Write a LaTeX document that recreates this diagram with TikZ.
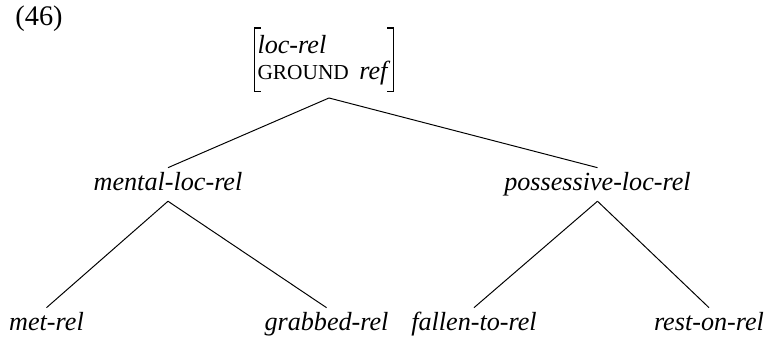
\documentclass[tikz,border=0pt]{standalone}
\usepackage{fontspec}
\setmainfont{Liberation Serif}

\tikzset{
  type/.style={font=\fontsize{12}{12}\selectfont\itshape, anchor=base,
    text height=8pt, text depth=2pt, inner xsep=0pt, inner ysep=2.5pt},
  branch/.style={line width=0.45pt},
  bracket/.style={line width=0.6pt}
}
\newcommand{\fakesc}[1]{{\fontsize{9.8}{9.8}\selectfont #1}}

\begin{document}
\begin{tikzpicture}[x=0.4587pt, y=0.4587pt]
\useasboundingbox (0,0) rectangle (766,340);

% Example number
\node[anchor=base west, inner sep=0pt, font=\fontsize{13}{13}\selectfont] (num) at (15,314) {(46)};

% Feature structure at the top
\node[anchor=north, align=left, inner xsep=1.2pt, inner ysep=3pt,
  font=\fontsize{12}{12}\selectfont] (avm) at (324,312)
  {\textit{loc-rel}\\\fakesc{GROUND}\hspace{0.4em}\textit{ref}};
\draw[bracket] ([xshift=2.8pt]avm.north west) -- (avm.north west)
  -- (avm.south west) -- ([xshift=2.8pt]avm.south west);
\draw[bracket] ([xshift=-2.8pt]avm.north east) -- (avm.north east)
  -- (avm.south east) -- ([xshift=-2.8pt]avm.south east);
\coordinate (top) at (329,242);

% Middle level
\node[type] (mental) at (168,149) {mental-loc-rel};
\node[type] (poss) at (597.5,149) {possessive-loc-rel};

% Leaves
\node[type] (met) at (46.5,9) {met-rel};
\node[type] (grabbed) at (326.5,9) {grabbed-rel};
\node[type] (fallen) at (474,9) {fallen-to-rel};
\node[type] (rest) at (709,9) {rest-on-rel};

% Branches
\draw[branch] (top) -- (mental.north);
\draw[branch] (top) -- (poss.north);
\draw[branch] (mental.south) -- (met.north);
\draw[branch] (mental.south) -- (grabbed.north);
\draw[branch] (poss.south) -- (fallen.north);
\draw[branch] (poss.south) -- (rest.north);

\end{tikzpicture}
\end{document}
